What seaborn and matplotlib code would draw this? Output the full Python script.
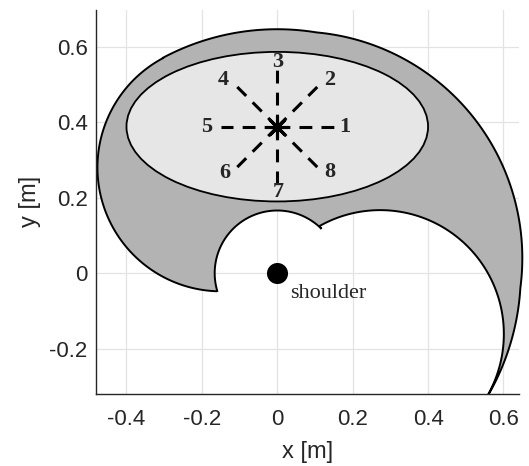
import numpy as np
import pandas as pd
import matplotlib
matplotlib.use("Agg")
import matplotlib.pyplot as plt
import seaborn as sns
from matplotlib.patches import Ellipse, Polygon, Rectangle

# ---------------- data ----------------
target_ids = ["1", "2", "3", "4", "5", "6", "7", "8"]
target_angles_deg = [0, 45, 90, 135, 180, 225, 270, 315]
reach_length = 0.15
start_x, start_y = 0.0, 0.387
label_dx = [0.180, 0.140, 0.000, -0.143, -0.187, -0.139, 0.003, 0.140]
label_dy = [0.000, 0.124, 0.173, 0.124, 0.000, -0.122, -0.172, -0.119]

ellipse_cx, ellipse_cy = 0.0, 0.388
ellipse_w, ellipse_h = 0.80, 0.396

# workspace outline as circular arcs: (centre x, centre y, radius, start deg, end deg)
arc_cx = [0.0, 0.05, 0.0, -0.149, 0.0, 0.273]
arc_cy = [0.0, 0.04, 0.0, 0.280, 0.0, -0.161]
arc_r = [0.646, 0.600, 0.646, 0.328, 0.166, 0.328]
arc_start = [-33.0, -7.5, 80.7, 118.0, 196.5, 119.4]
arc_end = [-3.4, 84.8, 118.0, 268.0, 45.0, -33.0]

shoulder_x, shoulder_y = [0.0], [0.0]
shoulder_label = "shoulder"

x_ticks = [-0.4, -0.2, 0.0, 0.2, 0.4, 0.6]
x_ticklabels = ["-0.4", "-0.2", "0", "0.2", "0.4", "0.6"]
y_ticks = [-0.2, 0.0, 0.2, 0.4, 0.6]
y_ticklabels = ["-0.2", "0", "0.2", "0.4", "0.6"]
x_lim = (-0.4808, 0.6412)
y_lim = (-0.319, 0.697)

# ---------------- figure ----------------
sns.set_theme(style="white")
plt.rcParams["font.family"] = ["Liberation Sans", "DejaVu Sans"]
plt.rcParams["axes.unicode_minus"] = False

fig = plt.figure(figsize=(5.29, 4.66), dpi=100)
ax = fig.add_axes([0.1815, 0.1552, 0.7996, 0.8234])
ax.set_facecolor("white")
ax.set_xlim(*x_lim)
ax.set_ylim(*y_lim)

# workspace polygon
pts = []
for cx, cy, r, a0, a1 in zip(arc_cx, arc_cy, arc_r, arc_start, arc_end):
    t = np.deg2rad(np.linspace(a0, a1, 200))
    pts.append(np.column_stack([cx + r * np.cos(t), cy + r * np.sin(t)]))
pts = np.vstack(pts)
ws = Polygon(pts, closed=True, facecolor="#b3b3b3", edgecolor="black",
             linewidth=1.4, zorder=2, joinstyle="miter")
ax.add_patch(ws)
clip_rect = Rectangle((x_lim[0], y_lim[0]), 0.75 - x_lim[0], y_lim[1] - y_lim[0],
                      transform=ax.transData)
ws.set_clip_path(clip_rect)

ax.add_patch(Ellipse((ellipse_cx, ellipse_cy), ellipse_w, ellipse_h,
                     facecolor="#e6e6e6", edgecolor="black", linewidth=1.3, zorder=3))

# dashed reach lines
for tid, ang in zip(target_ids, target_angles_deg):
    a = np.deg2rad(ang)
    df = pd.DataFrame({"x": [start_x, start_x + reach_length * np.cos(a)],
                       "y": [start_y, start_y + reach_length * np.sin(a)]})
    sns.lineplot(data=df, x="x", y="y", estimator=None, sort=False, color="black",
                 linewidth=2.2, ax=ax, zorder=4)
for ln in ax.lines:
    ln.set_dashes((4.2, 3.0))
    ln.set_dash_capstyle("butt")

# centre star
ax.plot([start_x], [start_y], marker=(8, 2, 0), markersize=16, markeredgewidth=2.2,
        color="black", linestyle="none", zorder=6)

# target numbers
for tid, dx, dy in zip(target_ids, label_dx, label_dy):
    ax.text(start_x + dx, start_y + dy, tid, ha="center", va="center",
            fontsize=16, fontweight="bold", family="Liberation Serif", zorder=7)

# shoulder
sns.scatterplot(x=shoulder_x, y=shoulder_y, s=230, color="black", edgecolor="black",
                linewidth=0, ax=ax, zorder=6)
ax.text(0.034, -0.066, shoulder_label, ha="left", va="baseline", fontsize=16,
        family="Liberation Serif", zorder=7)

# axes styling
ax.set_xlim(*x_lim)
ax.set_ylim(*y_lim)
ax.set_xticks(x_ticks)
ax.set_xticklabels(x_ticklabels)
ax.set_yticks(y_ticks)
ax.set_yticklabels(y_ticklabels)
ax.grid(True, color="#e3e3e3", linewidth=0.9)
ax.set_axisbelow(True)
for s in ["top", "right"]:
    ax.spines[s].set_visible(False)
for s in ["left", "bottom"]:
    ax.spines[s].set_color("#262626")
    ax.spines[s].set_linewidth(1.0)
ax.tick_params(axis="both", direction="in", length=4, width=0.9, colors="#262626",
               labelsize=16, labelcolor="#262626")
ax.tick_params(axis="x", pad=11)
ax.tick_params(axis="y", pad=6)
ax.set_xlabel("x [m]", fontsize=17, color="#262626")
ax.set_ylabel("y [m]", fontsize=17, color="#262626")
ax.xaxis.set_label_coords(0.5, -0.152)
ax.xaxis.label.set_va("center")
ax.yaxis.set_label_coords(-0.156, 0.5)
ax.yaxis.label.set_va("center")

fig.savefig("out.png", dpi=100)
